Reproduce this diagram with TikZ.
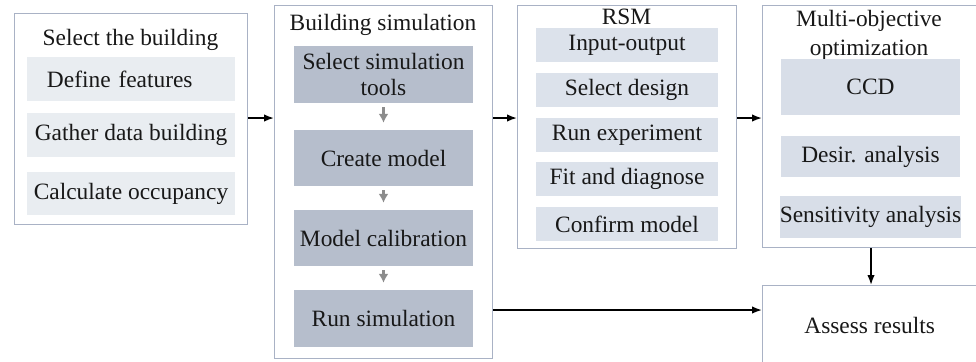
\documentclass[tikz,border=0pt]{standalone}
\usepackage{fontspec}
\setmainfont{Liberation Serif}
\usepackage{tikz}
\usetikzlibrary{arrows.meta,positioning,calc}

\definecolor{framecol}{HTML}{A9B2C5}
\definecolor{paleA}{HTML}{E9EDF1}
\definecolor{paleB}{HTML}{B6BECC}
\definecolor{paleC}{HTML}{DCE2EB}
\definecolor{paleD}{HTML}{D8DEE8}
\definecolor{txtcol}{HTML}{181818}
\definecolor{stepgray}{HTML}{8C8C8C}

\tikzset{
  frame/.style={draw=framecol,line width=1.4bp,fill=white,anchor=north west,inner sep=0pt},
  stepbox/.style={inner sep=0pt,align=center,text=txtcol},
  headline/.style={align=center,text=txtcol},
  flow/.style={line width=1.6bp,-{Latex[length=10bp,width=7.5bp]}},
  subflow/.style={draw=stepgray,line width=2.2bp,-{Latex[length=9bp,width=10bp]},shorten <=4bp,shorten >=7bp}
}

\begin{document}
\begin{tikzpicture}[x=1bp,y=-1bp,font=\fontsize{23.5}{29}\selectfont]
  \useasboundingbox (0,0) rectangle (976,361);

  % outer frames
  \node[frame,minimum width=233bp,minimum height=211bp] (sel) at (14,13) {};
  \node[frame,minimum width=218bp,minimum height=353bp] (sim) at (274,5) {};
  \node[frame,minimum width=219bp,minimum height=243bp] (rsm) at (517,5) {};
  \node[frame,minimum width=214bp,minimum height=242bp] (moo) at (762,5) {};
  \node[frame,minimum width=214bp,minimum height=80bp] (assess) at (762,285) {};

  % select the building
  \node[headline] (selT) at (130.5,40) {Select the building};
  \node[stepbox,fill=paleA,minimum height=44bp,text width=168bp,inner xsep=20bp,align=left] (define) at (131,79) {Define features};
  \node[stepbox,fill=paleA,minimum width=208bp,minimum height=44bp] (gather) at (131,135) {Gather data building};
  \node[stepbox,fill=paleA,minimum width=208bp,minimum height=43bp] (occup) at (131,193.5) {Calculate occupancy};

  % building simulation
  \node[headline] (simT) at (383,25) {Building simulation};
  \node[stepbox,fill=paleB,minimum width=179bp,minimum height=57bp,font=\fontsize{23.5}{27}\selectfont] (tools) at (383.5,74.5) {Select simulation\\tools};
  \node[stepbox,fill=paleB,minimum width=179bp,minimum height=56bp] (create) at (383.5,158) {Create model};
  \node[stepbox,fill=paleB,minimum width=179bp,minimum height=56bp] (calib) at (383.5,238) {Model calibration};
  \node[stepbox,fill=paleB,minimum width=179bp,minimum height=57bp] (run) at (383.5,318.5) {Run simulation};

  % RSM
  \node[headline] (rsmT) at (626.5,17) {RSM};
  \node[stepbox,fill=paleC,minimum width=182bp,minimum height=34bp] (inout) at (627,45) {Input-output};
  \node[stepbox,fill=paleC,minimum width=182bp,minimum height=34bp] (design) at (627,90) {Select design};
  \node[stepbox,fill=paleC,minimum width=182bp,minimum height=34bp] (exper) at (627,135) {Run experiment};
  \node[stepbox,fill=paleC,minimum width=182bp,minimum height=34bp] (fit) at (627,179) {Fit and diagnose};
  \node[stepbox,fill=paleC,minimum width=182bp,minimum height=34bp] (confirm) at (627,224) {Confirm model};

  % multi-objective optimization
  \node[headline] (mooT) at (869,35) {Multi-objective\\optimization};
  \node[stepbox,fill=paleD,minimum width=179bp,minimum height=56bp] (ccd) at (870.5,87) {CCD};
  \node[stepbox,fill=paleD,minimum width=179bp,minimum height=41bp] (desir) at (870.5,156.5) {Desir. analysis};
  \node[stepbox,fill=paleD,minimum width=179bp,minimum height=42bp] (sens) at (870.5,217) {Sensitivity analysis};

  \node[headline] (assessT) at (assess.center) {Assess results};

  % connectors
  \draw[flow] (sel.east |- 0,118) -- (sim.west |- 0,118);
  \draw[flow] (sim.east |- 0,118) -- (rsm.west |- 0,118);
  \draw[flow] (rsm.east |- 0,118) -- (moo.west |- 0,118);
  \draw[flow] (moo.south -| 871,0) -- (assess.north -| 871,0);
  \draw[flow] (sim.east |- 0,310) -- (assess.west |- 0,310);
  \draw[subflow] (tools) -- (create);
  \draw[subflow] (create) -- (calib);
  \draw[subflow] (calib) -- (run);
\end{tikzpicture}
\end{document}
